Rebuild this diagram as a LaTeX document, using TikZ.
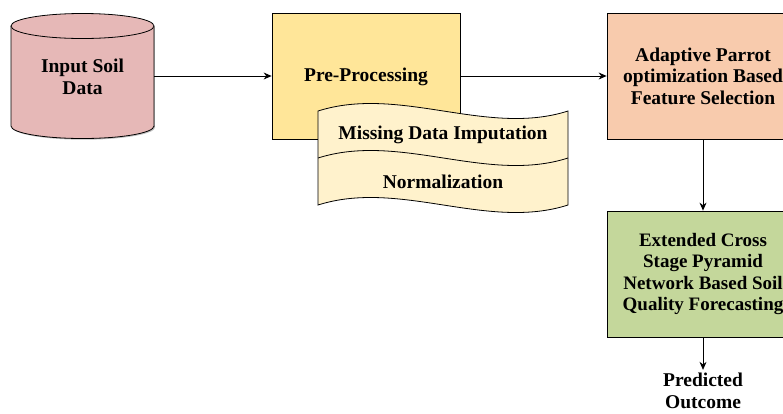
\documentclass[tikz,border=0pt]{standalone}
\usepackage{fontspec}
\setmainfont{Liberation Serif}
\usetikzlibrary{arrows.meta,shadows}

\definecolor{soilpink}{HTML}{E6B8B7}
\definecolor{prepgold}{HTML}{FFE699}
\definecolor{tapecream}{HTML}{FFF2CC}
\definecolor{featpeach}{HTML}{F8CBAD}
\definecolor{forecastgreen}{HTML}{C4D79B}

\tikzset{
  outline/.style={draw=black, line width=0.8pt},
  boxshadow/.style={drop shadow={shadow xshift=1.2pt, shadow yshift=-1.2pt, opacity=0.3}},
  stagebox/.style={outline, boxshadow, minimum width=192pt, minimum height=126pt,
    align=center, inner sep=0pt},
  steptext/.style={align=center, font=\fontsize{19.5}{21.5}\selectfont\bfseries},
  flow/.style={-{Stealth[length=8pt,width=7pt]}, line width=0.8pt},
}

\begin{document}
\begin{tikzpicture}[x=1pt,y=-1pt]
  \useasboundingbox (0,0) rectangle (783,413);
  \clip (0,0) rectangle (783,413);

  % input data cylinder
  \fill[black, opacity=0.25] (12.2,27.2) rectangle (155.2,127.2);
  \fill[black, opacity=0.25] (83.7,127.2) ellipse [x radius=71.5, y radius=12.5];
  \fill[soilpink] (11,26) rectangle (154,126);
  \fill[soilpink] (82.5,126) ellipse [x radius=71.5, y radius=12.5];
  \draw[outline] (11,26) -- (11,126)
    arc [start angle=180, end angle=0, x radius=71.5, y radius=12.5] -- (154,26);
  \draw[outline, fill=soilpink] (82.5,26) ellipse [x radius=71.5, y radius=12.5];
  \node[steptext, minimum width=143pt, minimum height=100pt] (input) at (82.5,77)
    {Input Soil\\Data};

  % pre-processing and its sub steps
  \node[stagebox, fill=prepgold, minimum width=188pt] (prep) at (366,76) {};
  \node[steptext] (preptext) at (366,77) {Pre-Processing};

  \draw[outline, fill=tapecream]
    (318,111) .. controls (400,85) and (487,137) .. (568,111) -- (568,205)
    .. controls (487,231) and (400,179) .. (318,205) -- cycle;
  \draw[outline] (318,158) .. controls (400,132) and (487,184) .. (568,158);
  \node[steptext] (imput) at (443,135) {Missing Data Imputation};
  \node[steptext] (norm) at (443,182) {Normalization};

  % feature selection and forecasting
  \node[stagebox, fill=featpeach, steptext] (feat) at (703,76)
    {Adaptive Parrot\\optimization Based\\Feature Selection};
  \node[stagebox, fill=forecastgreen, steptext, font=\fontsize{19}{21.5}\selectfont\bfseries]
    (forecast) at (703,274)
    {Extended Cross\\Stage Pyramid\\Network Based Soil\\Quality Forecasting};
  \node[steptext] (outcome) at (703,391) {Predicted\\Outcome};

  % connectors
  \draw[flow] (input.east |- 0,76) -- (prep.west);
  \draw[flow] (prep.east) -- (feat.west);
  \draw[flow] (feat.south) -- (forecast.north);
  \draw[flow] (forecast.south) -- (outcome.north);

\end{tikzpicture}
\end{document}
